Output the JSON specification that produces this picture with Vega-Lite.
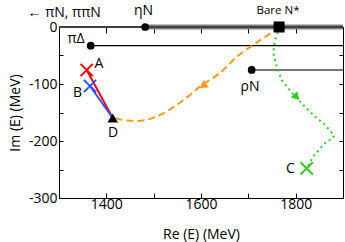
{
  "$schema": "https://vega.github.io/schema/vega-lite/v6.json",
  "width": 284,
  "height": 171,
  "autosize": {"type": "none"},
  "padding": {"left": 59, "top": 27, "right": 2, "bottom": 44},
  "config": {
    "view": {"stroke": "black", "strokeWidth": 1},
    "font": "Open Sans",
    "axis": {"grid": false, "domainColor": "black", "tickColor": "black", "labelColor": "black", "titleColor": "black", "labelFontSize": 14, "titleFontSize": 14, "titleFontWeight": "normal", "labelFlush": false, "labelOverlap": false}
  },
  "datasets": {
    "piN": [{"x": 1300, "y": 0}, {"x": 1900, "y": 0}],
    "etaN": [{"x": 1482, "y": 0}, {"x": 1900, "y": 0}],
    "piDelta": [{"x": 1367, "y": -32.8}, {"x": 1900, "y": -32.8}],
    "rhoN": [{"x": 1707, "y": -75.4}, {"x": 1900, "y": -75.4}],
    "redLine": [{"x": 1358.5, "y": -75.4}, {"x": 1413.5, "y": -159.6}],
    "blueLine": [{"x": 1365.5, "y": -103.5}, {"x": 1413.5, "y": -159.6}],
    "orange": [
      {"i": 0, "x": 1765, "y": 0},
      {"i": 1, "x": 1752, "y": -8.2},
      {"i": 2, "x": 1731, "y": -20},
      {"i": 3, "x": 1710, "y": -31.6},
      {"i": 4, "x": 1676, "y": -52},
      {"i": 5, "x": 1640, "y": -80.7},
      {"i": 6, "x": 1601.5, "y": -101.8},
      {"i": 7, "x": 1576.8, "y": -119.3},
      {"i": 8, "x": 1548.7, "y": -136.8},
      {"i": 9, "x": 1513.4, "y": -154.4},
      {"i": 10, "x": 1477.5, "y": -164},
      {"i": 11, "x": 1443, "y": -164},
      {"i": 12, "x": 1422, "y": -160.5},
      {"i": 13, "x": 1413.5, "y": -159.6}
    ],
    "green": [
      {"i": 0, "x": 1765, "y": 0},
      {"i": 1, "x": 1761, "y": -12.3},
      {"i": 2, "x": 1756, "y": -24},
      {"i": 3, "x": 1752.7, "y": -46},
      {"i": 4, "x": 1760, "y": -69.6},
      {"i": 5, "x": 1770.5, "y": -93},
      {"i": 6, "x": 1788, "y": -111.8},
      {"i": 7, "x": 1800.7, "y": -123.3},
      {"i": 8, "x": 1816, "y": -136.8},
      {"i": 9, "x": 1837, "y": -154.4},
      {"i": 10, "x": 1858.4, "y": -169},
      {"i": 11, "x": 1881, "y": -189.5},
      {"i": 12, "x": 1879.5, "y": -195},
      {"i": 13, "x": 1865.6, "y": -201},
      {"i": 14, "x": 1855, "y": -210},
      {"i": 15, "x": 1837, "y": -227.5},
      {"i": 16, "x": 1823.3, "y": -247.9}
    ],
    "circles": [
      {"x": 1482, "y": 0},
      {"x": 1367, "y": -32.8},
      {"x": 1707, "y": -75.4}
    ],
    "bare": [{"x": 1765, "y": 0}],
    "poleD": [{"x": 1413.5, "y": -159.6}],
    "poleA": [{"x": 1358.5, "y": -75.4}],
    "poleB": [{"x": 1365.5, "y": -103.5}],
    "poleC": [{"x": 1823.3, "y": -247.9}],
    "arrowOrange": [{"x": 1604, "y": -103.5}],
    "arrowGreen": [{"x": 1802, "y": -123}],
    "labels": [
      {"x": 1478.5, "y": 28, "t": "ηN"},
      {"x": 1336, "y": -21, "t": "πΔ"},
      {"x": 1384.5, "y": -65, "t": "A"},
      {"x": 1339, "y": -116, "t": "B"},
      {"x": 1414, "y": -186, "t": "D"},
      {"x": 1703.5, "y": -105, "t": "ρN"},
      {"x": 1789, "y": -249, "t": "C"}
    ],
    "bareLabel": [{"x": 1762.7, "y": 28, "t": "Bare N*"}]
  },
  "resolve": {"axis": {"x": "independent", "y": "independent"}},
  "layer": [
    {
      "data": {"name": "piDelta"},
      "mark": {"type": "line", "color": "black", "strokeWidth": 1.2},
      "encoding": {
        "x": {"field": "x", "type": "quantitative", "scale": {"domain": [1300, 1900], "nice": false, "zero": false},
          "axis": {"orient": "bottom", "title": "Re (E) (MeV)", "values": [1300, 1400, 1500, 1600, 1700, 1800, 1900], "labelExpr": "datum.value % 200 == 0 ? '' + datum.value : ''", "tickSize": -5, "labelPadding": 4, "titlePadding": 16}},
        "y": {"field": "y", "type": "quantitative", "scale": {"domain": [-300, 0], "nice": false, "zero": false},
          "axis": {"orient": "left", "title": "Im (E) (MeV)", "values": [-300, -250, -200, -150, -100, -50, 0], "labelExpr": "datum.value % 100 == 0 ? '' + datum.value : ''", "tickSize": -4, "labelPadding": 6, "titlePadding": 6}}
      }
    },
    {
      "data": {"name": "rhoN"},
      "mark": {"type": "line", "color": "#777777", "strokeWidth": 2},
      "encoding": {
        "x": {"field": "x", "type": "quantitative", "axis": {"orient": "top", "title": "← πN, ππN", "titleX": -32, "titleY": -15, "titleAlign": "left", "titleBaseline": "middle", "titleAnchor": null, "labels": false, "values": [1300, 1400, 1500, 1600, 1700, 1800, 1900], "tickSize": -6}},
        "y": {"field": "y", "type": "quantitative", "axis": {"orient": "right", "title": null, "labels": false, "values": [-300, -250, -200, -150, -100, -50, 0], "tickSize": -4}}
      }
    },
    {
      "data": {"name": "etaN"},
      "mark": {"type": "line", "color": "#808080", "strokeWidth": 5, "clip": false},
      "encoding": {"x": {"field": "x", "type": "quantitative", "axis": null}, "y": {"field": "y", "type": "quantitative", "axis": null}}
    },
    {
      "data": {"name": "piN"},
      "mark": {"type": "line", "color": "#404040", "strokeWidth": 2, "clip": false},
      "encoding": {"x": {"field": "x", "type": "quantitative", "axis": null}, "y": {"field": "y", "type": "quantitative", "axis": null}}
    },
    {
      "data": {"name": "redLine"},
      "mark": {"type": "line", "color": "#ff0000", "strokeWidth": 2},
      "encoding": {"x": {"field": "x", "type": "quantitative", "axis": null}, "y": {"field": "y", "type": "quantitative", "axis": null}}
    },
    {
      "data": {"name": "blueLine"},
      "mark": {"type": "line", "color": "#3050ff", "strokeWidth": 2},
      "encoding": {"x": {"field": "x", "type": "quantitative", "axis": null}, "y": {"field": "y", "type": "quantitative", "axis": null}}
    },
    {
      "data": {"name": "orange"},
      "mark": {"type": "line", "color": "#ff9a1a", "strokeWidth": 2, "strokeDash": [7, 4], "interpolate": "cardinal"},
      "encoding": {"x": {"field": "x", "type": "quantitative", "axis": null}, "y": {"field": "y", "type": "quantitative", "axis": null}, "order": {"field": "i", "type": "quantitative"}}
    },
    {
      "data": {"name": "green"},
      "mark": {"type": "line", "color": "#33cc22", "strokeWidth": 2, "strokeDash": [2, 3.5]},
      "encoding": {"x": {"field": "x", "type": "quantitative", "axis": null}, "y": {"field": "y", "type": "quantitative", "axis": null}, "order": {"field": "i", "type": "quantitative"}}
    },
    {
      "data": {"name": "circles"},
      "mark": {"type": "point", "shape": "circle", "filled": true, "color": "black", "opacity": 1, "size": 60},
      "encoding": {"x": {"field": "x", "type": "quantitative", "axis": null}, "y": {"field": "y", "type": "quantitative", "axis": null}}
    },
    {
      "data": {"name": "bare"},
      "mark": {"type": "point", "shape": "square", "filled": true, "color": "black", "opacity": 1, "size": 121},
      "encoding": {"x": {"field": "x", "type": "quantitative", "axis": null}, "y": {"field": "y", "type": "quantitative", "axis": null}}
    },
    {
      "data": {"name": "poleD"},
      "mark": {"type": "point", "shape": "triangle-up", "filled": true, "color": "black", "opacity": 1, "size": 110},
      "encoding": {"x": {"field": "x", "type": "quantitative", "axis": null}, "y": {"field": "y", "type": "quantitative", "axis": null}}
    },
    {
      "data": {"name": "poleA"},
      "mark": {"type": "point", "shape": "M-1,-1L1,1M1,-1L-1,1", "filled": false, "stroke": "#ff0000", "strokeWidth": 2, "opacity": 1, "size": 150},
      "encoding": {"x": {"field": "x", "type": "quantitative", "axis": null}, "y": {"field": "y", "type": "quantitative", "axis": null}}
    },
    {
      "data": {"name": "poleB"},
      "mark": {"type": "point", "shape": "M-1,-1L1,1M1,-1L-1,1", "filled": false, "stroke": "#3050ff", "strokeWidth": 2, "opacity": 1, "size": 150},
      "encoding": {"x": {"field": "x", "type": "quantitative", "axis": null}, "y": {"field": "y", "type": "quantitative", "axis": null}}
    },
    {
      "data": {"name": "poleC"},
      "mark": {"type": "point", "shape": "M-1,-1L1,1M1,-1L-1,1", "filled": false, "stroke": "#33cc22", "strokeWidth": 2, "opacity": 1, "size": 150},
      "encoding": {"x": {"field": "x", "type": "quantitative", "axis": null}, "y": {"field": "y", "type": "quantitative", "axis": null}}
    },
    {
      "data": {"name": "arrowOrange"},
      "mark": {"type": "point", "shape": "triangle-down", "filled": true, "color": "#ff9a1a", "opacity": 1, "size": 80, "angle": 54},
      "encoding": {"x": {"field": "x", "type": "quantitative", "axis": null}, "y": {"field": "y", "type": "quantitative", "axis": null}}
    },
    {
      "data": {"name": "arrowGreen"},
      "mark": {"type": "point", "shape": "triangle-down", "filled": true, "color": "#33cc22", "opacity": 1, "size": 80, "angle": 317},
      "encoding": {"x": {"field": "x", "type": "quantitative", "axis": null}, "y": {"field": "y", "type": "quantitative", "axis": null}}
    },
    {
      "data": {"name": "labels"},
      "mark": {"type": "text", "fontSize": 14, "color": "black", "align": "center", "baseline": "middle"},
      "encoding": {"x": {"field": "x", "type": "quantitative", "axis": null}, "y": {"field": "y", "type": "quantitative", "axis": null}, "text": {"field": "t"}}
    },
    {
      "data": {"name": "bareLabel"},
      "mark": {"type": "text", "fontSize": 11.5, "color": "black", "align": "center", "baseline": "middle"},
      "encoding": {"x": {"field": "x", "type": "quantitative", "axis": null}, "y": {"field": "y", "type": "quantitative", "axis": null}, "text": {"field": "t"}}
    }
  ]
}
